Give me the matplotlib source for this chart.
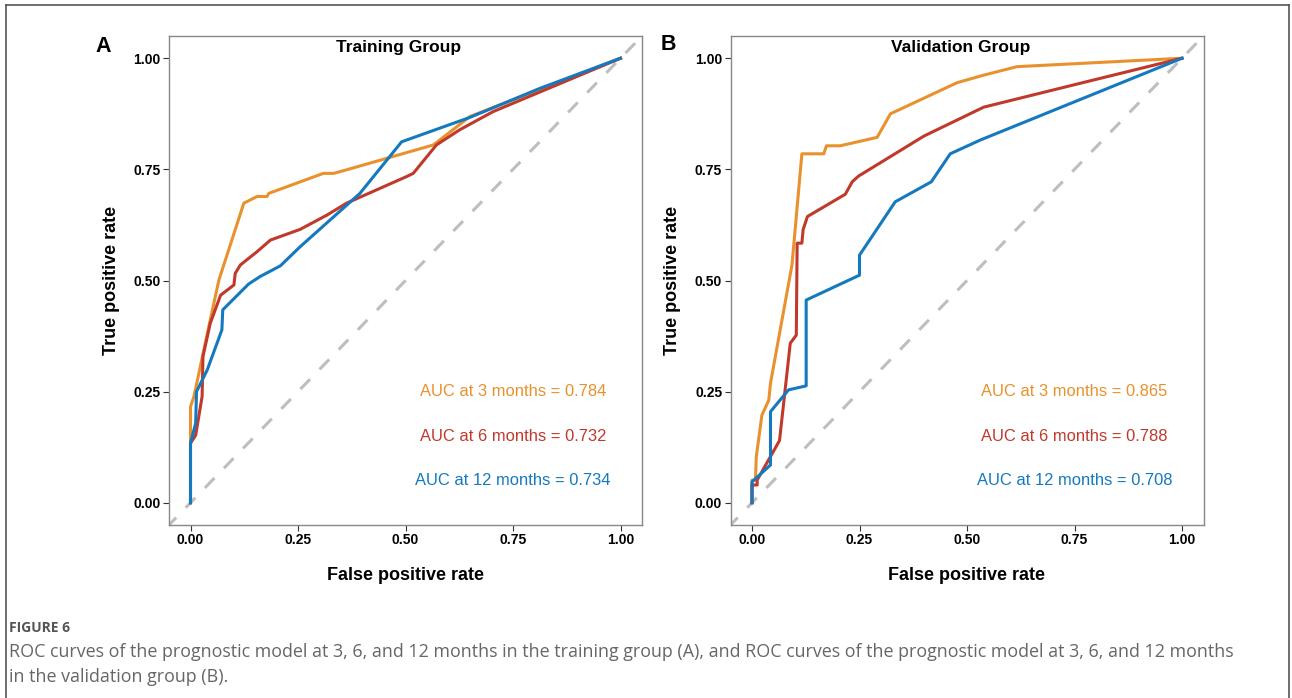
import matplotlib.pyplot as plt
from matplotlib.lines import Line2D

plt.rcParams['font.family'] = ['Liberation Sans', 'DejaVu Sans']

# ---------- data ----------
# Training group
train_fpr_3m = [0.0, 0.0, 0.008, 0.031, 0.066, 0.124, 0.155, 0.178, 0.182, 0.309, 0.333,
                0.363, 0.565, 0.65, 1.0]
train_tpr_3m = [0.0, 0.216, 0.239, 0.344, 0.501, 0.674, 0.689, 0.689, 0.696, 0.741, 0.741,
                0.749, 0.805, 0.869, 1.0]

train_fpr_6m = [0.0, 0.0, 0.012, 0.027, 0.029, 0.046, 0.070, 0.101, 0.104, 0.116, 0.155,
                0.186, 0.255, 0.317, 0.363, 0.503, 0.518, 0.572, 0.626, 0.704, 1.0]
train_tpr_6m = [0.0, 0.134, 0.152, 0.239, 0.329, 0.404, 0.467, 0.490, 0.516, 0.535, 0.565,
                0.591, 0.615, 0.647, 0.674, 0.734, 0.741, 0.805, 0.839, 0.880, 1.0]

train_fpr_12m = [0.0, 0.0, 0.012, 0.014, 0.039, 0.073, 0.075, 0.135, 0.162, 0.209, 0.255,
                 0.394, 0.491, 0.65, 0.812, 1.0]
train_tpr_12m = [0.0, 0.134, 0.179, 0.250, 0.299, 0.389, 0.434, 0.492, 0.509, 0.533, 0.576,
                 0.696, 0.812, 0.867, 0.932, 1.0]

# Validation group
val_fpr_3m = [0.0, 0.0, 0.008, 0.010, 0.023, 0.039, 0.043, 0.093, 0.116, 0.167, 0.173,
              0.205, 0.291, 0.322, 0.477, 0.539, 0.616, 1.0]
val_tpr_3m = [0.0, 0.051, 0.051, 0.104, 0.197, 0.231, 0.269, 0.535, 0.785, 0.785, 0.803,
              0.803, 0.822, 0.875, 0.945, 0.962, 0.981, 1.0]

val_fpr_6m = [0.0, 0.0, 0.004, 0.012, 0.012, 0.064, 0.089, 0.103, 0.105, 0.116, 0.119,
              0.129, 0.217, 0.233, 0.248, 0.400, 0.539, 0.748, 1.0]
val_tpr_6m = [0.0, 0.04, 0.04, 0.04, 0.051, 0.140, 0.359, 0.377, 0.584, 0.584, 0.615,
              0.644, 0.694, 0.722, 0.735, 0.825, 0.890, 0.940, 1.0]

val_fpr_12m = [0.0, 0.0, 0.043, 0.043, 0.085, 0.126, 0.126, 0.250, 0.250, 0.333, 0.417,
               0.461, 0.531, 1.0]
val_tpr_12m = [0.0, 0.047, 0.085, 0.205, 0.254, 0.263, 0.456, 0.512, 0.557, 0.677, 0.722,
               0.785, 0.816, 1.0]

auc_labels_train = ['AUC at 3 months = 0.784', 'AUC at 6 months = 0.732', 'AUC at 12 months = 0.734']
auc_labels_val = ['AUC at 3 months = 0.865', 'AUC at 6 months = 0.788', 'AUC at 12 months = 0.708']
panel_titles = ['Training Group', 'Validation Group']
panel_letters = ['A', 'B']
ticks = [0.0, 0.25, 0.5, 0.75, 1.0]
tick_labels = ['0.00', '0.25', '0.50', '0.75', '1.00']

colors = ['#E8912D', '#C0392B', '#1479BF']

W, H = 1292, 698
fig = plt.figure(figsize=(W / 100, H / 100), dpi=100)


def px(x0, y0, w, h):
    # pixel box -> figure fraction
    return [x0 / W, 1 - (y0 + h) / H, w / W, h / H]


panels = [
    (px(169, 36, 473, 489), panel_titles[0], panel_letters[0], (103, 47),
     [(train_fpr_3m, train_tpr_3m), (train_fpr_6m, train_tpr_6m), (train_fpr_12m, train_tpr_12m)],
     auc_labels_train),
    (px(730.5, 36, 473, 489), panel_titles[1], panel_letters[1], (668, 45),
     [(val_fpr_3m, val_tpr_3m), (val_fpr_6m, val_tpr_6m), (val_fpr_12m, val_tpr_12m)],
     auc_labels_val),
]

for rect, title, letter, letter_xy, curves, auc_labels in panels:
    ax = fig.add_axes(rect)
    ax.set_xlim(-0.05, 1.05)
    ax.set_ylim(-0.05, 1.05)

    # reference diagonal
    ax.plot([-0.1, 1.1], [-0.1, 1.1], color='#BEBEBE', lw=2.2, dashes=(4.5, 4.5), zorder=1)

    for (fpr, tpr), c in zip(curves, colors):
        ax.plot(fpr, tpr, color=c, lw=2.2, zorder=2, solid_joinstyle='round')

    for lab, c, yy in zip(auc_labels, colors, [0.25, 0.15, 0.05]):
        ax.text(0.75, yy, lab, color=c, fontsize=11.9, ha='center', va='center')

    ax.text(0.485, 1.025, title, fontsize=12.5, fontweight='bold', ha='center', va='center')

    ax.set_xticks(ticks)
    ax.set_xticklabels(tick_labels, fontweight='bold', fontsize=10)
    ax.set_yticks(ticks)
    ax.set_yticklabels(tick_labels, fontweight='bold', fontsize=10)
    ax.tick_params(length=4, width=0.8, color='#333333', pad=2)
    for s in ax.spines.values():
        s.set_color('#888888')
        s.set_linewidth(1.0)

    ax.set_xlabel('False positive rate', fontsize=13, fontweight='bold', labelpad=14)
    ax.set_ylabel('True positive rate', fontsize=13, fontweight='bold', labelpad=10)

    fig.text(letter_xy[0] / W, 1 - letter_xy[1] / H, letter, fontsize=15.5,
             fontweight='bold', ha='center', va='center')

# caption
cap_font = ['Open Sans', 'DejaVu Sans']
fig.text(9 / W, 1 - 628 / H, 'FIGURE 6', fontsize=10, color='#555555',
         family=cap_font, fontweight='bold', ha='left', va='center')
fig.text(9 / W, 1 - 652 / H,
         'ROC curves of the prognostic model at 3, 6, and 12 months in the training group (A), '
         'and ROC curves of the prognostic model at 3, 6, and 12 months',
         fontsize=12.9, color='#666666', family=cap_font, ha='left', va='center')
fig.text(9 / W, 1 - 677 / H, 'in the validation group (B).',
         fontsize=12.9, color='#666666', family=cap_font, ha='left', va='center')

# outer frame (open at the bottom)
frame_kw = dict(color='#555555', lw=1.2, transform=fig.transFigure)
fig.add_artist(Line2D([6 / W, 6 / W], [0, 1 - 5 / H], **frame_kw))
fig.add_artist(Line2D([6 / W, 1289 / W], [1 - 5 / H, 1 - 5 / H], **frame_kw))
fig.add_artist(Line2D([1289 / W, 1289 / W], [0, 1 - 5 / H], **frame_kw))

fig.savefig('out.png', dpi=100)
